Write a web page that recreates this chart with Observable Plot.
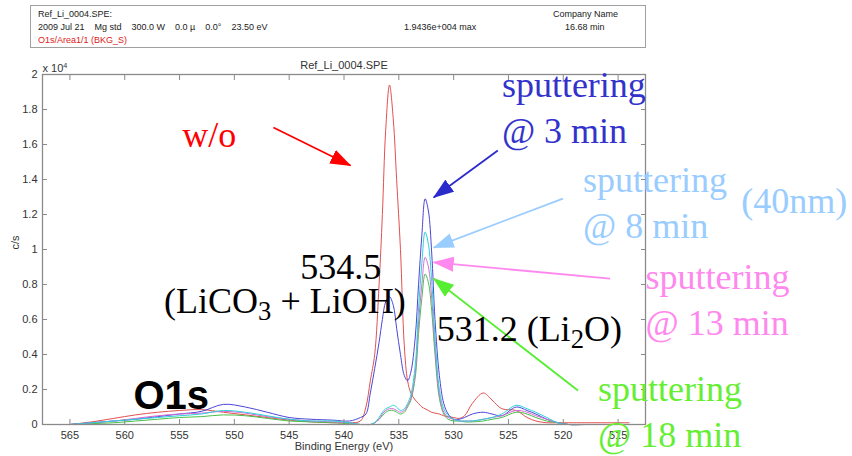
<!DOCTYPE html>
<html><head><meta charset="utf-8">
<script src="https://cdn.jsdelivr.net/npm/d3@7"></script>
<script src="https://cdn.jsdelivr.net/npm/@observablehq/plot@0.6"></script>
<style>
body{margin:0;background:#fff;width:852px;height:456px;overflow:hidden;position:relative;font-family:"Liberation Sans",Arial,sans-serif}
#chart{position:absolute;left:0;top:0}
#hdr{position:absolute;left:30px;top:5px;width:614px;height:41px;border:1px solid #a0a0a0;font-size:9px;color:#222;background:#fff}
#hdr div{position:absolute;white-space:pre;line-height:10px}
</style></head><body>
<div id="chart"></div>
<div id="hdr"></div>
<script>
// ---- data (intensity in units of 10^4 c/s) ----
const energy = [565, 563, 561, 559, 557, 555, 553, 551, 549, 547, 545, 543, 541,
  539.5, 538.5, 538, 537.6, 537.2, 536.8, 536.5, 536.2, 535.85, 535.5, 535.2, 534.85, 534.5, 534.2, 533.9, 533.5, 533.2, 532.9, 532.6, 532.3, 532.0, 531.7, 531.3, 530.9, 530.5, 530,
  529.5, 529, 528.3, 527.3, 526.5, 525.6, 524.3, 523.3, 522.5, 521.5, 520.5, 519.5, 518, 516, 514];
const noSputter = [0.00, 0.015, 0.035, 0.055, 0.07, 0.08, 0.085, 0.07, 0.055, 0.04, 0.025, 0.015, 0.01,
  0.01, 0.02, 0.10, 0.25, 0.40, 0.80, 1.20, 1.68, 1.94, 1.74, 1.40, 1.00, 0.45, 0.25, 0.18, 0.14, 0.12, 0.10, 0.09, 0.08, 0.07, 0.065, 0.06, 0.05, 0.045, 0.04,
  0.035, 0.05, 0.12, 0.18, 0.14, 0.09, 0.08, 0.04, 0.02, 0.01, 0.01, 0.01, 0.01, 0.01, 0.01];
const sputter3 = [0.0, 0.01, 0.02, 0.03, 0.045, 0.06, 0.075, 0.115, 0.10, 0.07, 0.04, 0.03, 0.025,
  0.02, 0.04, 0.06, 0.18, 0.32, 0.47, 0.60, 0.70, 0.73, 0.68, 0.55, 0.40, 0.28, 0.25, 0.30, 0.50, 0.80, 1.08, 1.29, 1.22, 0.98, 0.60, 0.28, 0.12, 0.06, 0.03,
  0.03, 0.04, 0.06, 0.07, 0.06, 0.05, 0.10, 0.08, 0.06, 0.03, 0.01, 0, 0, 0, 0];
const sputter8 = [0.0, 0.01, 0.02, 0.03, 0.04, 0.05, 0.06, 0.08, 0.07, 0.05, 0.03, 0.02, 0.02,
  0.01, 0.0, 0.0, 0.0, 0.01, 0.04, 0.07, 0.09, 0.10, 0.11, 0.10, 0.08, 0.09, 0.12, 0.17, 0.34, 0.66, 0.92, 1.10, 1.03, 0.82, 0.50, 0.20, 0.09, 0.05, 0.03,
  0.02, 0.02, 0.02, 0.03, 0.04, 0.06, 0.11, 0.09, 0.07, 0.04, 0.01, 0, 0, 0, 0];
const sputter13 = [0.0, 0.01, 0.02, 0.035, 0.05, 0.06, 0.065, 0.075, 0.065, 0.045, 0.03, 0.02, 0.015,
  0.01, 0.0, 0.0, 0.0, 0.01, 0.03, 0.06, 0.08, 0.09, 0.09, 0.08, 0.07, 0.08, 0.11, 0.15, 0.30, 0.58, 0.80, 0.955, 0.90, 0.72, 0.44, 0.17, 0.07, 0.04, 0.03,
  0.02, 0.02, 0.02, 0.03, 0.04, 0.05, 0.08, 0.07, 0.05, 0.03, 0.01, 0, 0, 0, 0];
const sputter18 = [0.0, 0.005, 0.01, 0.02, 0.03, 0.04, 0.045, 0.055, 0.05, 0.035, 0.02, 0.015, 0.01,
  0.005, 0.0, 0.0, 0.0, 0.01, 0.03, 0.05, 0.07, 0.08, 0.08, 0.07, 0.06, 0.07, 0.10, 0.14, 0.27, 0.52, 0.72, 0.86, 0.81, 0.65, 0.40, 0.15, 0.06, 0.03, 0.02,
  0.02, 0.015, 0.015, 0.02, 0.03, 0.04, 0.07, 0.06, 0.04, 0.02, 0.01, 0, 0, 0, 0];
const seriesKeys = ["w/o", "3 min", "8 min", "13 min", "18 min"];
const xTicks = [565, 560, 555, 550, 545, 540, 535, 530, 525, 520, 515];
const yTicks = [0, 0.2, 0.4, 0.6, 0.8, 1, 1.2, 1.4, 1.6, 1.8, 2];
const headerLeft = ["Ref_Li_0004.SPE:", "2009 Jul 21    Mg std    300.0 W    0.0 \u00b5    0.0\u00b0    23.50 eV", "O1s/Area1/1 (BKG_S)"];
const headerMid = "1.9436e+004 max";
const headerRight = ["Company Name", "16.68 min"];
const plotTitle = "Ref_Li_0004.SPE";
const xLabel = "Binding Energy (eV)";
const yLabel = "c/s";
const yExponent = "x 10^{4}";
// annotations, anchored in data coordinates (eV, 10^4 c/s)
const noteKeys = ["w/o", "3 min", "8 min", "8 min", "13 min", "18 min", "black", "black", "black"];
const noteTexts = ["w/o", "sputtering\n@ 3 min", "sputtering\n@ 8 min", "(40nm)", "sputtering\n@ 13 min", "sputtering\n@ 18 min", "534.5", "(LiCO_{3} + LiOH)", "531.2 (Li_{2}O)"];
const noteE = [554.76, 525.6, 518.2, 503.76, 512.5, 516.83, 543.98, 556.41, 531.55];
const noteV = [1.583, 1.606, 1.063, 1.211, 0.509, -0.131, 0.834, 0.64, 0.48];
const arrowKeys = ["w/o", "3 min", "8 min", "13 min", "18 min"];
const arrowE1 = [546.44, 525.97, 520.03, 515.73, 518.66];
const arrowV1 = [1.697, 1.566, 1.291, 0.834, 0.194];
const arrowE2 = [539.41, 531.82, 531.82, 531.82, 531.82];
const arrowV2 = [1.48, 1.297, 1.011, 0.926, 0.834];
const peakLabel = "O1s";
const peakLabelE = 559.2, peakLabelV = 0.091;

// ---- styles ----
const lineColors = {"w/o": "#e25050", "3 min": "#4c46d8", "8 min": "#2cd2da", "13 min": "#d46ad4", "18 min": "#48c048"};
const noteColors = {"w/o": "#ff0000", "3 min": "#3333cc", "8 min": "#99ccff", "13 min": "#ff88ee", "18 min": "#66ee33", "black": "#000"};
const arrowColors = {"w/o": "#ff0000", "3 min": "#2b2bcc", "8 min": "#99ccff", "13 min": "#ff88ee", "18 min": "#55ee33"};

const valueSets = [noSputter, sputter3, sputter8, sputter13, sputter18];
const rows = seriesKeys.flatMap((k, j) => energy.map((e, i) => ({k, e, v: valueSets[j][i]})));
const notes = noteTexts.map((t, i) => ({t, k: noteKeys[i], e: noteE[i], v: noteV[i]}));
const arrows = arrowKeys.map((k, i) => ({k, e1: arrowE1[i], v1: arrowV1[i], e2: arrowE2[i], v2: arrowV2[i]}));
const fmtY = d => String(+d.toFixed(1));
const lineOf = k => Plot.line(rows.filter(d => d.k === k), {x: "e", y: "v", stroke: lineColors[k], strokeWidth: 1, curve: "catmull-rom"});

const chart = Plot.plot({
  width: 852, height: 456,
  marginLeft: 42, marginRight: 207, marginTop: 74, marginBottom: 32,
  style: {fontFamily: "'Liberation Sans', Arial, sans-serif", fontSize: "11px", color: "#333", background: "transparent", overflow: "visible"},
  x: {domain: [567.5, 512.5]},
  y: {domain: [0, 2]},
  marks: [
    lineOf("w/o"), lineOf("3 min"), lineOf("18 min"), lineOf("13 min"), lineOf("8 min"),
    Plot.frame({stroke: "#8a8a8a", strokeWidth: 1.3}),
    Plot.axisX(xTicks, {anchor: "bottom", tickSize: -5, tickPadding: 12, stroke: "#8a8a8a", fill: "#333", label: null}),
    Plot.axisX(xTicks, {anchor: "top", tickSize: -5, tickFormat: () => "", stroke: "#8a8a8a", label: null}),
    Plot.axisY(yTicks, {anchor: "left", tickSize: -5, tickPadding: 10, tickFormat: fmtY, stroke: "#8a8a8a", fill: "#333", label: null}),
    Plot.axisY(yTicks, {anchor: "right", tickSize: -5, tickFormat: () => "", stroke: "#8a8a8a", label: null}),
    Plot.text([xLabel], {frameAnchor: "bottom", dy: 25, fill: "#333"}),
    Plot.text([plotTitle], {frameAnchor: "top", lineAnchor: "middle", dy: -9, fill: "#333"}),
    Plot.text([yLabel], {frameAnchor: "left", dx: -27, rotate: -90, fill: "#333"}),
    Plot.text([yExponent], {frameAnchor: "top-left", textAnchor: "start", lineAnchor: "middle", dy: -6, fill: "#333"}),
    Plot.link(arrows, {x1: "e1", y1: "v1", x2: "e2", y2: "v2", stroke: d => arrowColors[d.k], strokeWidth: 1.8, markerEnd: "arrow"}),
    Plot.text(notes, {x: "e", y: "v", text: "t", fill: d => noteColors[d.k], textAnchor: "start", lineAnchor: "bottom", lineHeight: 1.28, fontSize: 36, fontFamily: "'Liberation Serif', 'Times New Roman', serif"}),
    Plot.text([peakLabel], {x: () => peakLabelE, y: () => peakLabelV, textAnchor: "start", lineAnchor: "bottom", fontSize: 40, fontWeight: "bold", fill: "#000", fontFamily: "'Liberation Sans', Arial, sans-serif"})
  ]
});
document.getElementById("chart").appendChild(chart);

// filled arrowheads
chart.querySelectorAll("marker").forEach(m => {
  const col = m.getAttribute("stroke");
  m.setAttribute("viewBox", "-20 -8 21 16");
  m.setAttribute("markerUnits", "userSpaceOnUse");
  m.setAttribute("markerWidth", 21);
  m.setAttribute("markerHeight", 16);
  m.setAttribute("fill", col);
  m.setAttribute("stroke", "none");
  m.querySelector("path").setAttribute("d", "M-20,-7.5L1,0L-20,7.5Z");
});

// sub/superscripts written as _{n} / ^{n}
const scriptRe = /([_^]\{[^}]*\})/;
chart.querySelectorAll("text, tspan").forEach(node => {
  if (node.children.length) return;
  const t = node.textContent;
  if (!scriptRe.test(t)) return;
  const fs = parseFloat(getComputedStyle(node).fontSize);
  const parts = t.split(scriptRe);
  node.textContent = "";
  let shift = 0;
  parts.forEach(p => {
    if (!p) return;
    const ts = document.createElementNS("http://www.w3.org/2000/svg", "tspan");
    const m = p.match(/^([_^])\{([^}]*)\}$/);
    if (m) {
      const d = m[1] === "_" ? 0.22 * fs : -0.4 * fs;
      ts.textContent = m[2];
      ts.setAttribute("font-size", fs * (m[1] === "_" ? 0.74 : 0.66));
      ts.setAttribute("dy", d - shift);
      shift = d;
    } else {
      ts.textContent = p;
      if (shift) { ts.setAttribute("dy", -shift); shift = 0; }
    }
    node.appendChild(ts);
  });
});

// header box
const hdr = document.getElementById("hdr");
const addH = (txt, left, top, color) => { const d = document.createElement("div"); d.textContent = txt; d.style.left = left + "px"; d.style.top = top + "px"; if (color) d.style.color = color; hdr.appendChild(d); };
headerLeft.forEach((t, i) => addH(t, 7, 3 + i * 13, i === 2 ? "#e02020" : null));
addH(headerMid, 373, 16);
addH(headerRight[0], 522, 3);
addH(headerRight[1], 534, 16);
</script>
</body></html>
